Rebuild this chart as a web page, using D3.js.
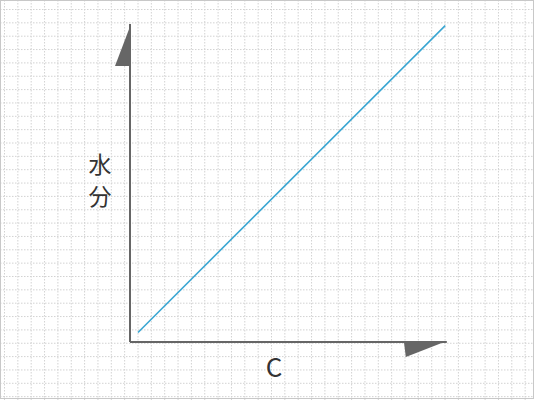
<!DOCTYPE html>
<html>
<head>
    <meta charset="utf-8">
    <script src="https://d3js.org/d3.v7.min.js"></script>
    <style>
        body { margin: 0; background: #fff; }
        text { font-family: "Noto Sans CJK JP", "Noto Sans", sans-serif; fill: #333; }
    </style>
</head>
<body>
<div id="chart"></div>
<script>
    // data (no ticks on this chart, just a straight line)
    let lineX = [2.5, 98.5];
    let lineY = [3, 99.5];
    let xLabel = "C";
    let yLabel = ["水", "分"];

    let width = 534, height = 400;

    let svg = d3.select("#chart")
        .append("svg")
            .attr("width", width)
            .attr("height", height);

    // dotted background grid
    let grid = svg.append("g").attr("class", "grid");
    let step = 13.35;
    grid.selectAll("line.v")
        .data(d3.range(4.5, width, step))
        .join("line")
            .attr("class", "v")
            .attr("x1", d => d).attr("x2", d => d)
            .attr("y1", 0).attr("y2", height)
            .attr("stroke", "#d2d2d2")
            .attr("stroke-dasharray", "1.5,1.5");
    grid.selectAll("line.h")
        .data(d3.range(9.5, height, step))
        .join("line")
            .attr("class", "h")
            .attr("x1", 0).attr("x2", width)
            .attr("y1", d => d).attr("y2", d => d)
            .attr("stroke", "#d2d2d2")
            .attr("stroke-dasharray", "1.5,1.5");

    svg.append("rect")
        .attr("x", 0.5).attr("y", 0.5)
        .attr("width", width - 1).attr("height", height - 2)
        .attr("fill", "none")
        .attr("stroke", "#c8c8c8");

    let x = d3.scaleLinear().domain([0, 100]).range([130, 450]);
    let y = d3.scaleLinear().domain([0, 100]).range([342, 24]);

    let axisColor = "#666";

    // axes
    svg.append("line")
        .attr("x1", x(0)).attr("x2", x(0))
        .attr("y1", y(0)).attr("y2", y(100))
        .attr("stroke", axisColor).attr("stroke-width", 2);
    svg.append("line")
        .attr("x1", x(0)).attr("x2", x(99))
        .attr("y1", y(0)).attr("y2", y(0))
        .attr("stroke", axisColor).attr("stroke-width", 2);

    // arrow heads (half triangles)
    svg.append("path")
        .attr("d", `M${x(0) + 1},${y(100)} L${x(0) - 15},${y(100) + 42} L${x(0) + 1},${y(100) + 42} Z`)
        .attr("fill", axisColor);
    svg.append("path")
        .attr("d", `M${x(99)},${y(0) - 1} L${x(99) - 43},${y(0) - 1} L${x(99) - 41},${y(0) + 15} Z`)
        .attr("fill", axisColor);

    // the line
    let pts = lineX.map((d, i) => [d, lineY[i]]);
    svg.append("path")
        .datum(pts)
        .attr("d", d3.line().x(d => x(d[0])).y(d => y(d[1])))
        .attr("fill", "none")
        .attr("stroke", "#3aa6d2")
        .attr("stroke-width", 1.6);

    // labels
    svg.append("text")
        .attr("x", 274).attr("y", 377)
        .attr("text-anchor", "middle")
        .attr("font-size", 26)
        .text(xLabel);
    svg.selectAll("text.ylab")
        .data(yLabel)
        .join("text")
            .attr("class", "ylab")
            .attr("x", 100)
            .attr("y", (d, i) => 173 + i * 32)
            .attr("text-anchor", "middle")
            .attr("font-size", 23)
            .text(d => d);
</script>
</body>
</html>
